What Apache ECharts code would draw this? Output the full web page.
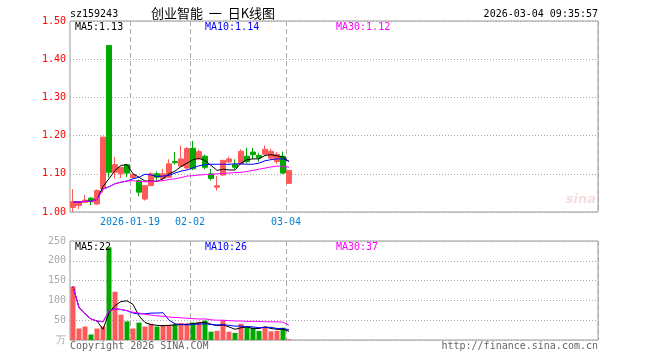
<!DOCTYPE html>
<html>
<head>
<meta charset="utf-8">
<script src="https://cdn.jsdelivr.net/npm/echarts@6/dist/echarts.min.js"></script>
<style>
html,body{margin:0;padding:0;background:#fff;}
#chart{width:660px;height:360px;}
</style>
</head>
<body>
<div id="chart"></div>
<script>
// ---- data ----
var dates = ['2026-01-05','2026-01-06','2026-01-07','2026-01-08','2026-01-09','2026-01-12','2026-01-13','2026-01-14','2026-01-15','2026-01-16',
  '2026-01-19','2026-01-20','2026-01-21','2026-01-22','2026-01-23','2026-01-26','2026-01-27','2026-01-28','2026-01-29','2026-01-30',
  '2026-02-02','2026-02-03','2026-02-04','2026-02-05','2026-02-06','2026-02-09','2026-02-10','2026-02-11','2026-02-12','2026-02-13',
  '2026-02-24','2026-02-25','2026-02-26','2026-02-27','2026-03-02','2026-03-03','2026-03-04'];
var opens  = [1.012,1.017,1.025,1.036,1.021,1.062,1.436,1.104,1.100,1.124,1.090,1.082,1.034,1.069,1.100,1.088,1.091,1.132,1.120,1.115,1.167,1.140,1.146,1.100,1.065,1.097,1.131,1.124,1.126,1.146,1.157,1.148,1.151,1.141,1.132,1.146,1.075];
var closes = [1.027,1.025,1.031,1.027,1.056,1.196,1.104,1.124,1.117,1.102,1.098,1.052,1.069,1.100,1.091,1.100,1.126,1.129,1.139,1.166,1.113,1.158,1.117,1.088,1.069,1.135,1.139,1.117,1.159,1.132,1.150,1.142,1.164,1.159,1.151,1.102,1.109];
var lows   = [1.000,1.008,1.024,1.018,1.019,1.051,1.090,1.087,1.089,1.091,1.088,1.041,1.030,1.068,1.082,1.082,1.090,1.124,1.118,1.112,1.110,1.135,1.112,1.082,1.056,1.094,1.128,1.112,1.124,1.128,1.139,1.132,1.149,1.138,1.126,1.099,1.073];
var highs  = [1.060,1.027,1.044,1.039,1.059,1.197,1.437,1.144,1.118,1.126,1.100,1.085,1.070,1.104,1.106,1.113,1.138,1.157,1.174,1.170,1.186,1.164,1.150,1.113,1.094,1.137,1.145,1.138,1.164,1.168,1.168,1.155,1.174,1.165,1.157,1.158,1.110];
var ma5  = [1.027,1.026,1.028,1.028,1.033,1.067,1.087,1.109,1.122,1.124,1.100,1.091,1.081,1.081,1.080,1.087,1.100,1.107,1.119,1.128,1.137,1.140,1.135,1.122,1.109,1.112,1.110,1.110,1.128,1.137,1.139,1.139,1.148,1.150,1.147,1.144,1.132];
var ma10 = [1.027,1.026,1.028,1.028,1.033,1.060,1.066,1.074,1.078,1.081,1.087,1.091,1.099,1.097,1.093,1.094,1.096,1.102,1.107,1.110,1.116,1.121,1.124,1.125,1.125,1.125,1.125,1.126,1.126,1.125,1.125,1.128,1.134,1.137,1.139,1.139,1.133];
var ma30 = [1.027,1.026,1.028,1.028,1.033,1.060,1.066,1.074,1.078,1.081,1.082,1.080,1.079,1.080,1.081,1.082,1.085,1.087,1.090,1.094,1.095,1.097,1.098,1.098,1.100,1.101,1.102,1.103,1.104,1.106,1.109,1.112,1.115,1.118,1.120,1.120,1.117];
var volumes = [135,29,34,14,29,34,234,122,64,47,29,44,34,41,34,38,38,40,43,41,44,46,49,21,23,50,21,18,41,34,31,23,34,22,23,31,2];
var vma5  = [135,82,66,53,48,27,69,87,97,99,90,61,44,39,37,36,37,38,39,40,41,43,45,40,36,38,33,27,31,33,29,29,33,29,27,27,22];
var vma10 = [135,82,66,53,48,46,73,79,77,74,68,66,66,68,68,69,50,41,39,38,40,40,41,39,38,39,37,35,35,34,33,31,32,32,29,29,26];
var vma30 = [135,82,66,53,48,46,73,79,77,74,70,68,65,63,61,60,58,57,56,55,54,53,53,51,50,50,49,48,48,47,47,47,46,46,46,45,37];
var labelDates = ['2026-01-19','2026-02-02','2026-03-04'];
var labelTexts = ['2026-01-19','02-02','03-04'];
var priceTicks = [1.00,1.10,1.20,1.30,1.40,1.50];
var volTicks = [0,50,100,150,200,250];
var priceLegend = ['MA5:1.13','MA10:1.14','MA30:1.12'];
var volLegend = ['MA5:22','MA10:26','MA30:37'];
var totalSlots = 88;

// ---- build ----
var cats = dates.slice();
for (var k = dates.length; k < totalSlots; k++) cats.push('slot' + k);
var candle = dates.map(function(d, i){ return [opens[i], closes[i], lows[i], highs[i]]; });
var UP = '#ff5a5a', DOWN = '#00a800';
var MONO = '"DejaVu Sans Mono", "Liberation Mono", monospace';
function isLabel(idx){ return labelDates.indexOf(cats[idx]) >= 0; }

function xAxisFor(gi, showLabel){
  return {
    type: 'category', gridIndex: gi, data: cats, boundaryGap: true,
    axisLine: {show: false}, axisTick: {show: false},
    axisLabel: {
      show: showLabel, interval: function(idx){ return isLabel(idx); },
      formatter: function(v){ var j = labelDates.indexOf(v); return j >= 0 ? labelTexts[j] : ''; },
      color: '#0a7fd0', fontFamily: MONO, fontSize: 10, margin: 5, padding: [0, 6, 0, 0]
    },
    splitLine: {show: true, interval: function(idx){ return isLabel(idx); },
      lineStyle: {color: '#aaa', type: [5, 3], width: 1}}
  };
}

var lineStyleSeries = function(name, data, color, xi, yi){
  return {name: name, type: 'line', data: data, xAxisIndex: xi, yAxisIndex: yi,
    showSymbol: false, symbol: 'none', smooth: false,
    lineStyle: {color: color, width: 1}, itemStyle: {color: color}, z: 5, silent: true};
};

function legendText(x, y, text, color){
  return {type: 'text', x: x, y: y, silent: true,
    style: {text: text, fill: color, font: '10px ' + MONO, textAlign: 'left', textVerticalAlign: 'middle', align: 'left', verticalAlign: 'middle'}, z: 100};
}

var chart = echarts.init(document.getElementById('chart'), null, {renderer: 'canvas'});
chart.setOption({
  animation: false,
  backgroundColor: '#fff',
  grid: [
    {left: 70, right: 62, top: 21, height: 191, show: true, borderColor: '#999', borderWidth: 1},
    {left: 70, right: 62, top: 241, height: 99, show: true, borderColor: '#999', borderWidth: 1}
  ],
  xAxis: [xAxisFor(0, true), xAxisFor(1, false)],
  yAxis: [
    {type: 'value', gridIndex: 0, min: priceTicks[0], max: priceTicks[priceTicks.length-1], interval: 0.1,
      axisLine: {show: false}, axisTick: {show: false},
      axisLabel: {color: '#ff0000', fontFamily: MONO, fontSize: 10, margin: 4, formatter: function(v){ return v.toFixed(2); }},
      splitLine: {show: true, lineStyle: {color: '#aaa', type: [1, 2]}}},
    {type: 'value', gridIndex: 1, min: volTicks[0], max: volTicks[volTicks.length-1], interval: 50,
      axisLine: {show: false}, axisTick: {show: false},
      axisLabel: {color: '#aaa', fontFamily: MONO, fontSize: 10, margin: 4, formatter: function(v){ return v === 0 ? '万' : String(v); }},
      splitLine: {show: true, lineStyle: {color: '#aaa', type: [1, 2]}}}
  ],
  series: [
    {type: 'candlestick', xAxisIndex: 0, yAxisIndex: 0, data: candle, barWidth: 5,
      itemStyle: {color: UP, color0: DOWN, borderColor: UP, borderColor0: DOWN, borderWidth: 1}, z: 3},
    lineStyleSeries('MA5', ma5, '#000000', 0, 0),
    lineStyleSeries('MA10', ma10, '#0000ff', 0, 0),
    lineStyleSeries('MA30', ma30, '#ff00ff', 0, 0),
    {type: 'bar', xAxisIndex: 1, yAxisIndex: 1, barWidth: 5,
      data: volumes.map(function(v, i){ return {value: v, itemStyle: {color: closes[i] >= opens[i] ? UP : DOWN}}; }), z: 3},
    lineStyleSeries('VMA5', vma5, '#000000', 1, 1),
    lineStyleSeries('VMA10', vma10, '#0000ff', 1, 1),
    lineStyleSeries('VMA30', vma30, '#ff00ff', 1, 1)
  ],
  graphic: [
    {type: 'text', x: 70, y: 14, silent: true, style: {text: 'sz159243', fill: '#000', font: '10px ' + MONO, textAlign: 'left', textVerticalAlign: 'middle', align: 'left', verticalAlign: 'middle'}},
    {type: 'text', x: 151, y: 13, silent: true, style: {text: '创业智能  一  日K线图', fill: '#000', font: '13px "Noto Sans CJK SC"', textAlign: 'left', textVerticalAlign: 'middle', align: 'left', verticalAlign: 'middle'}},
    {type: 'text', x: 598, y: 14, silent: true, style: {text: '2026-03-04 09:35:57', fill: '#000', font: '10px ' + MONO, textAlign: 'right', textVerticalAlign: 'middle', align: 'right', verticalAlign: 'middle'}},
    legendText(75, 27, priceLegend[0], '#000000'),
    legendText(205, 27, priceLegend[1], '#0000ff'),
    legendText(336, 27, priceLegend[2], '#ff00ff'),
    legendText(75, 247, volLegend[0], '#000000'),
    legendText(205, 247, volLegend[1], '#0000ff'),
    legendText(336, 247, volLegend[2], '#ff00ff'),
    {type: 'text', x: 70, y: 346, silent: true, style: {text: 'Copyright 2026 SINA.COM', fill: '#666', font: '10px ' + MONO, textAlign: 'left', textVerticalAlign: 'middle', align: 'left', verticalAlign: 'middle'}},
    {type: 'text', x: 598, y: 346, silent: true, style: {text: 'http://finance.sina.com.cn', fill: '#666', font: '10px ' + MONO, textAlign: 'right', textVerticalAlign: 'middle', align: 'right', verticalAlign: 'middle'}},
    {type: 'text', x: 596, y: 200, silent: true, style: {text: 'sina', fill: 'rgba(210,120,120,0.25)', font: 'italic bold 13px "DejaVu Sans"', textAlign: 'right', textVerticalAlign: 'middle', align: 'right', verticalAlign: 'middle'}}
  ]
});
</script>
</body>
</html>
